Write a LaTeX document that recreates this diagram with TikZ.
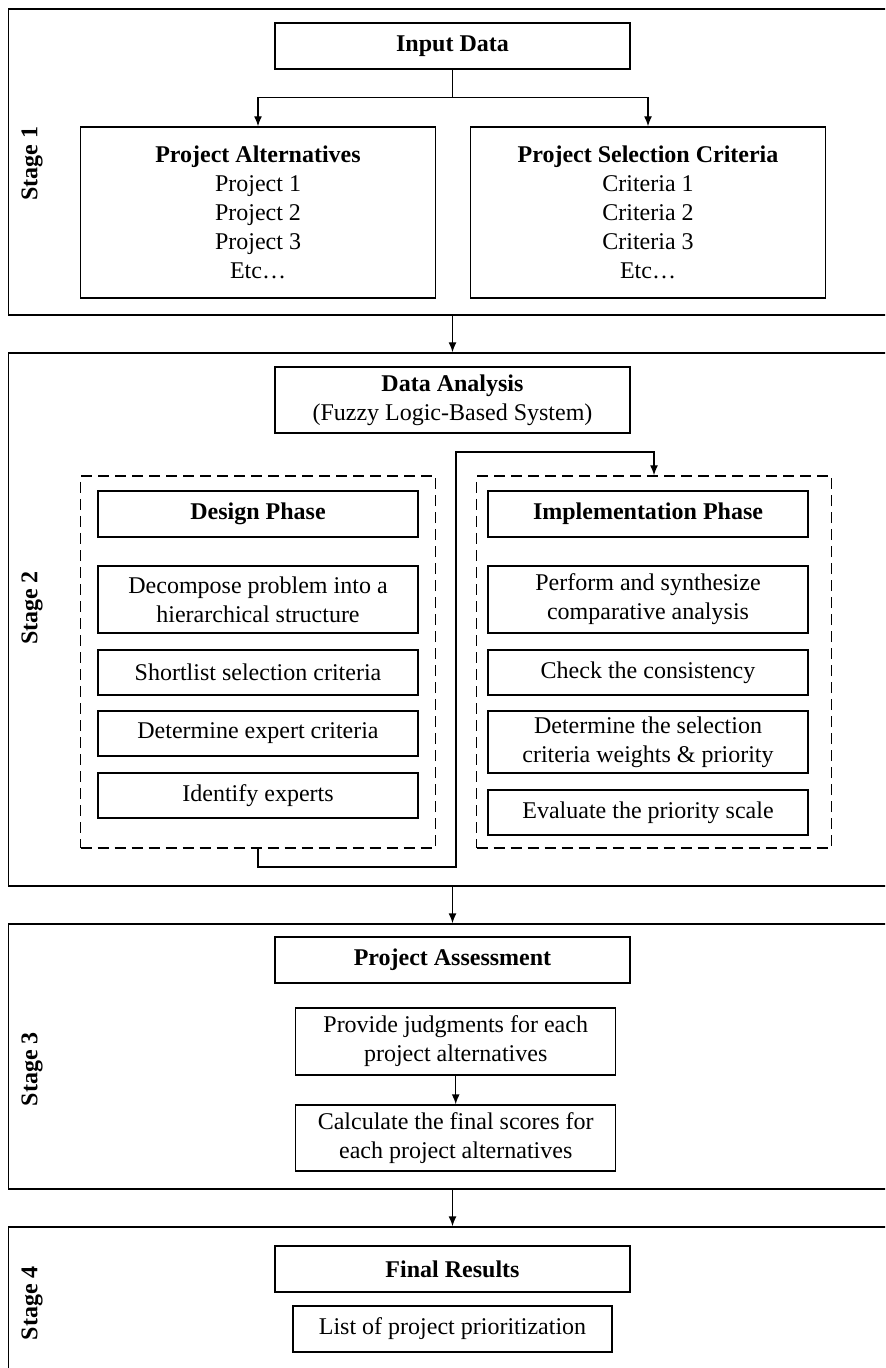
\documentclass[tikz,border=0pt]{standalone}
\usepackage{fontspec}
\setmainfont{Liberation Serif}
\usetikzlibrary{arrows.meta}
\tikzset{
	box/.style = {draw, line width=0.7pt, align=center, inner sep=0pt},
	phasebox/.style = {box, minimum width=160pt},
	dashbox/.style = {draw, line width=0.7pt, dash pattern=on 5.5pt off 3pt, minimum width=177.5pt, minimum height=186pt},
	stagebox/.style = {draw, line width=0.7pt, minimum width=445.75pt},
	stagelbl/.style = {rotate=90, font=\fontsize{12}{14.5}\selectfont\bfseries},
	arr/.style = {line width=0.7pt, -{Latex[length=5pt,width=4pt]}},
	ln/.style = {line width=0.7pt}
}
\begin{document}
\begin{tikzpicture}[x=0.5pt, y=-0.5pt, font=\fontsize{12}{14.5}\selectfont]
		\useasboundingbox (0,0) rectangle (885,1368);
		\clip (0,0) rectangle (885,1368);
		\node[stagebox, minimum height=153pt] (s1) at (454.25,162) {};
		\node[stagebox, minimum height=266.5pt] (s2) at (454.25,619.5) {};
		\node[stagebox, minimum height=132.5pt] (s3) at (454.25,1056.5) {};
		\node[stagebox, minimum height=96.5pt] (s4) at (454.25,1323.5) {};
		\node[stagelbl] (l1) at (32,164) {Stage 1};
		\node[stagelbl] (l2) at (32,608) {Stage 2};
		\node[stagelbl] (l3) at (32,1069) {Stage 3};
		\node[stagelbl] (l4) at (32,1303) {Stage 4};

		\node[box, minimum width=177.5pt, minimum height=23pt] (input) at (452.5,46) {\textbf{Input Data}};
		\node[box, minimum width=177.5pt, minimum height=85.5pt] (alt) at (258,212.5) {\textbf{Project Alternatives}\\Project 1\\Project 2\\Project 3\\Etc\ldots};
		\node[box, minimum width=177.5pt, minimum height=85.5pt] (crit) at (648,212.5) {\textbf{Project Selection Criteria}\\Criteria 1\\Criteria 2\\Criteria 3\\Etc\ldots};
		\coordinate (split) at (452.5,97.7);
		\draw[ln] (input) -- (split);
		\draw[arr] (split) -| (alt);
		\draw[arr] (split) -| (crit);
		\draw[arr] (s1.south -| input) -- (s2.north -| input);

		\node[box, minimum width=177.5pt, minimum height=33pt] (analysis) at (452.5,400) {\textbf{Data Analysis}\\(Fuzzy Logic-Based System)};
		\node[dashbox] (dl) at (258,662) {};
		\node[dashbox] (dr) at (654,662) {};
		\node[phasebox, minimum height=23pt] (design) at (258,514) {\textbf{Design Phase}};
		\node[phasebox, minimum height=33.5pt] (decomp) at (258,599.5) {Decompose problem into a\\hierarchical structure};
		\node[phasebox, minimum height=22.5pt] (short) at (258,672.5) {Shortlist selection criteria};
		\node[phasebox, minimum height=22.5pt] (expcrit) at (258,733.5) {Determine expert criteria};
		\node[phasebox, minimum height=22.5pt] (ident) at (258,795.5) {Identify experts};
		\node[phasebox, minimum height=23pt] (impl) at (648,514) {\textbf{Implementation Phase}};
		\node[phasebox, minimum height=33.5pt] (perform) at (648,599.5) {Perform and synthesize\\comparative analysis};
		\node[phasebox, minimum height=22.5pt] (check) at (648,672.5) {Check the consistency};
		\node[phasebox, minimum height=31pt] (weights) at (648,742) {Determine the selection\\criteria weights \& priority};
		\node[phasebox, minimum height=22.5pt] (evalscale) at (648,812.5) {Evaluate the priority scale};
		\draw[arr] (dl.south) |- (456,867) -- (456,452) -| (dr.north);
		\draw[arr] (s2.south -| input) -- (s3.north -| input);

		\node[box, minimum width=177.5pt, minimum height=23pt] (assess) at (452.5,960) {\textbf{Project Assessment}};
		\node[phasebox, minimum height=33.5pt] (judg) at (455.7,1041.5) {Provide judgments for each\\project alternatives};
		\node[phasebox, minimum height=33pt] (calc) at (455.7,1138) {Calculate the final scores for\\each project alternatives};
		\draw[arr] (judg) -- (calc);
		\draw[arr] (s3.south -| input) -- (s4.north -| input);

		\node[box, minimum width=177.5pt, minimum height=23pt] (final) at (452.5,1269) {\textbf{Final Results}};
		\node[box, minimum width=159.5pt, minimum height=23pt] (prio) at (452.5,1329) {List of project prioritization};
		\end{tikzpicture}
\end{document}
